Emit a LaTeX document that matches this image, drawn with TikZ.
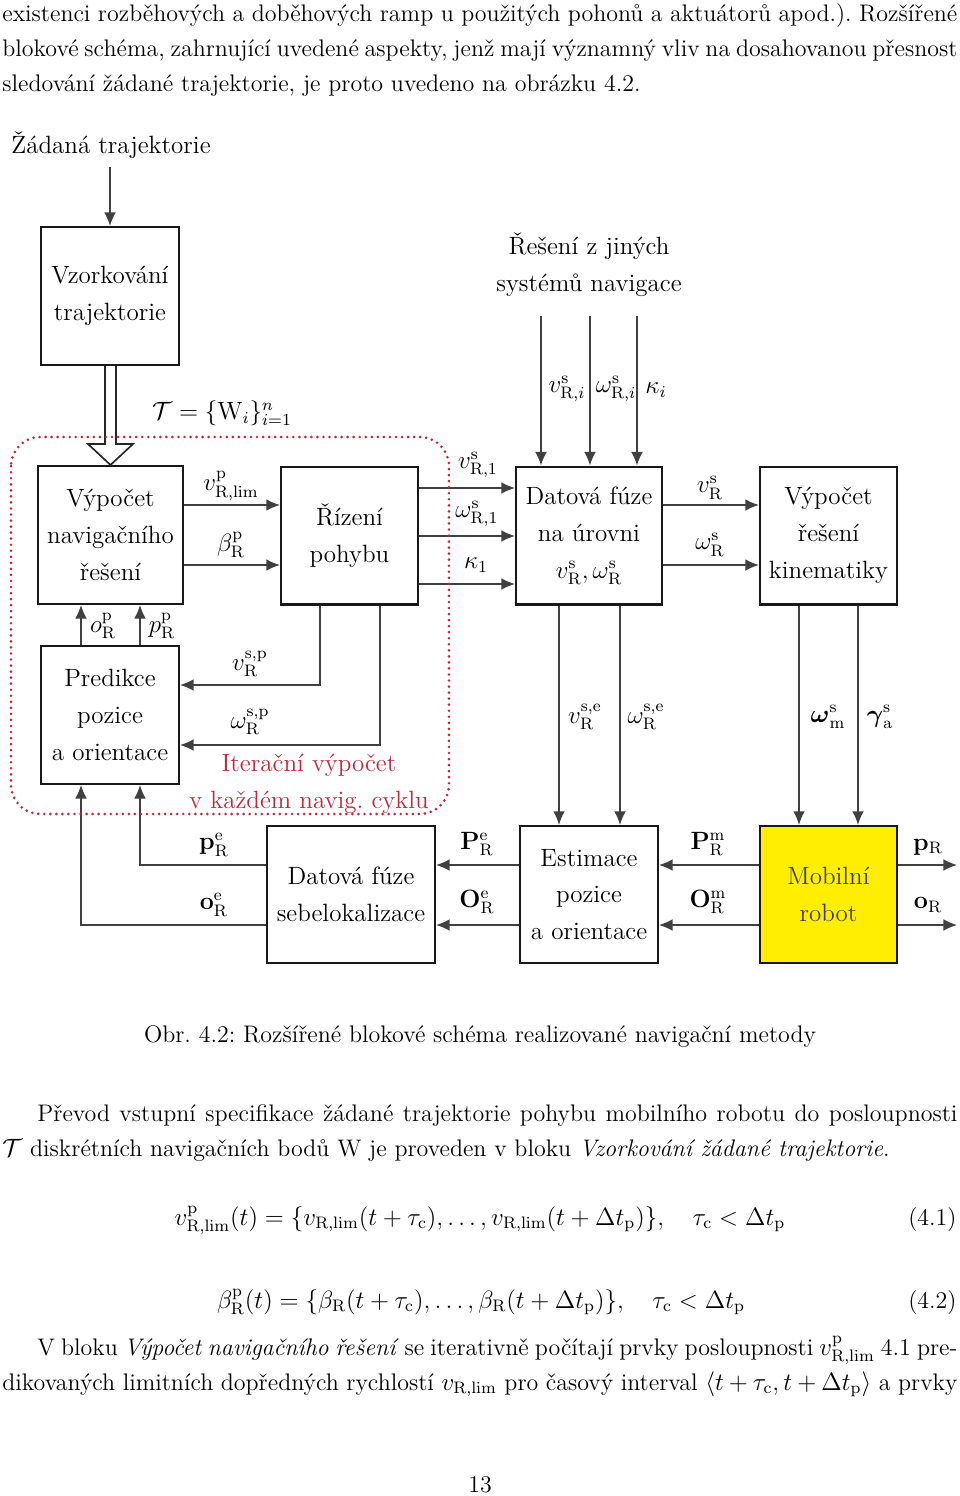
\documentclass[12pt,tikz,border=0pt]{standalone}
\usepackage{amsmath}
\usepackage{tikz}
\usetikzlibrary{arrows.meta}
\definecolor{cervena}{RGB}{200,35,55}
\definecolor{zluta}{RGB}{255,238,0}
\tikzset{
  blok/.style={draw=black!90, line width=1pt, align=center, inner sep=0pt, font=\fontsize{12}{17.7}\selectfont},
  spoj/.style={draw=black!75, line width=0.7pt, -{Latex[length=6.5pt,width=5.6pt]}},
  ramec/.style={draw=cervena, line width=1.4pt, line cap=round, dash pattern=on 0pt off 2.9pt, rounded corners=14pt},
  popis/.style={inner sep=1pt},
  telo/.style={font=\fontsize{11.5}{14}\selectfont},
  radek/.style={telo, anchor=base west, inner sep=0pt}
}
\frenchspacing

\begin{document}
\begin{tikzpicture}[x=0.48pt,y=-0.48pt]
   \useasboundingbox (0,0) rectangle (960,1496);

   \node[radek] (t1) at (2,22) {\makebox[458.4pt][s]{existenci rozběhových a doběhových ramp u použitých pohonů a aktuátorů apod.). Rozšířené}};
   \node[radek] (t2) at (2,57) {\makebox[458.4pt][s]{blokové schéma, zahrnující uvedené aspekty, jenž mají významný vliv na dosahovanou přesnost}};
   \node[radek] (t3) at (2,92) {sledování žádané trajektorie, je proto uvedeno na obrázku 4.2.};

   \node (zt) at (111,145) {Žádaná trajektorie};
   \node[align=center, font=\fontsize{12}{17.7}\selectfont] (rs) at (589,265) {Řešení z jiných\\systémů navigace};

   \node[blok, minimum width=66.2pt, minimum height=66.2pt] (vz) at (110,296) {Vzorkování\\trajektorie};
   \node[blok, minimum width=69.6pt, minimum height=66.2pt] (vn) at (110.5,535) {Výpočet\\navigačního\\řešení};
   \node[blok, minimum width=65.8pt, minimum height=66.2pt] (rp) at (349.5,535.5) {Řízení\\pohybu};
   \node[blok, minimum width=66.2pt, minimum height=66.2pt] (pr) at (110,715) {Predikce\\pozice\\a orientace};
   \node[blok, minimum width=70.1pt, minimum height=66.2pt] (df) at (589,535.5) {Datová fúze\\na úrovni\\$v^\mathrm{s}_\mathrm{R},\omega^\mathrm{s}_\mathrm{R}$};
   \node[blok, minimum width=65.8pt, minimum height=66.2pt] (vk) at (828.5,535.5) {Výpočet\\řešení\\kinematiky};
   \node[blok, minimum width=80.6pt, minimum height=65.8pt] (ds) at (351,894.5) {Datová fúze\\sebelokalizace};
   \node[blok, minimum width=66.2pt, minimum height=65.8pt] (es) at (589,894.5) {Estimace\\pozice\\a orientace};
   \node[blok, fill=zluta, text=black!75, minimum width=65.8pt, minimum height=65.8pt] (mr) at (828.5,894.5) {Mobilní\\robot};

   \coordinate (h1) at (541,316);
   \coordinate (h2) at (590,316);
   \coordinate (h3) at (637,316);
   \coordinate (o1) at (957,865);
   \coordinate (o2) at (957,925);

   \draw[spoj] (zt.south -| vz.north) -- (vz.north);
   \draw[line width=0.8pt, draw=black!85] (vz.south -| 105,0) -- (105,444) -- (88,444) -- (vn.north) -- (133,444) -- (116,444) -- (vz.south -| 116,0);
   \node[popis] (tw) at (222,413) {$\mathcal{T}=\{\mathrm{W}_i\}_{i=1}^{n}$};

   \draw[spoj] (vn.east |- 0,505) -- (rp.west |- 0,505);
   \draw[spoj] (vn.east |- 0,565) -- (rp.west |- 0,565);
   \node[popis] (a1) at (231,486) {$v^\mathrm{p}_\mathrm{R,lim}$};
   \node[popis] (a2) at (231,545) {$\beta^\mathrm{p}_\mathrm{R}$};

   \draw[spoj] (rp.east |- 0,488) -- (df.west |- 0,488);
   \draw[spoj] (rp.east |- 0,536) -- (df.west |- 0,536);
   \draw[spoj] (rp.east |- 0,584) -- (df.west |- 0,584);
   \node[popis] (b1) at (478,465) {$v^\mathrm{s}_\mathrm{R,1}$};
   \node[popis] (b2) at (477,514) {$\omega^\mathrm{s}_\mathrm{R,1}$};
   \node[popis] (b3) at (476,565) {$\kappa_1$};

   \draw[spoj] (h1) -- (h1 |- df.north);
   \draw[spoj] (h2) -- (h2 |- df.north);
   \draw[spoj] (h3) -- (h3 |- df.north);
   \node[popis] (c1) at (567,389) {$v^\mathrm{s}_{\mathrm{R},i}$};
   \node[popis] (c2) at (616,389) {$\omega^\mathrm{s}_{\mathrm{R},i}$};
   \node[popis] (c3) at (656,390) {$\kappa_i$};

   \draw[spoj] (df.east |- 0,505) -- (vk.west |- 0,505);
   \draw[spoj] (df.east |- 0,565) -- (vk.west |- 0,565);
   \node[popis] (d1) at (710,488) {$v^\mathrm{s}_\mathrm{R}$};
   \node[popis] (d2) at (710,545) {$\omega^\mathrm{s}_\mathrm{R}$};

   \draw[spoj] (df.south -| 559,0) -- (es.north -| 559,0);
   \draw[spoj] (df.south -| 620,0) -- (es.north -| 620,0);
   \node[popis] (e1) at (585,717) {$v^\mathrm{s,e}_\mathrm{R}$};
   \node[popis] (e2) at (646,717) {$\omega^\mathrm{s,e}_\mathrm{R}$};

   \draw[spoj] (vk.south -| 799,0) -- (mr.north -| 799,0);
   \draw[spoj] (vk.south -| 858,0) -- (mr.north -| 858,0);
   \node[popis] (f1) at (828,717) {$\boldsymbol{\omega}^\mathrm{s}_\mathrm{m}$};
   \node[popis] (f2) at (880,717) {$\boldsymbol{\gamma}^\mathrm{s}_\mathrm{a}$};

   \draw[spoj] (mr.east |- o1) -- (o1);
   \draw[spoj] (mr.east |- o2) -- (o2);
   \node[popis] (g1) at (928,847) {$\mathbf{p}_\mathrm{R}$};
   \node[popis] (g2) at (928,905) {$\mathbf{o}_\mathrm{R}$};

   \draw[spoj] (mr.west |- 0,865) -- (es.east |- 0,865);
   \draw[spoj] (mr.west |- 0,925) -- (es.east |- 0,925);
   \node[popis] (k1) at (708,844) {$\mathbf{P}^\mathrm{m}_\mathrm{R}$};
   \node[popis] (k2) at (708,902) {$\mathbf{O}^\mathrm{m}_\mathrm{R}$};

   \draw[spoj] (es.west |- 0,865) -- (ds.east |- 0,865);
   \draw[spoj] (es.west |- 0,925) -- (ds.east |- 0,925);
   \node[popis] (m1) at (477,844) {$\mathbf{P}^\mathrm{e}_\mathrm{R}$};
   \node[popis] (m2) at (477,902) {$\mathbf{O}^\mathrm{e}_\mathrm{R}$};

   \draw[spoj] (ds.west |- 0,865) -| (pr.south -| 140,0);
   \draw[spoj] (ds.west |- 0,925) -| (pr.south -| 81,0);
   \node[popis] (n1) at (214,845) {$\mathbf{p}^\mathrm{e}_\mathrm{R}$};
   \node[popis] (n2) at (214,905) {$\mathbf{o}^\mathrm{e}_\mathrm{R}$};

   \draw[spoj] (pr.north -| 81,0) -- (vn.south -| 81,0);
   \draw[spoj] (pr.north -| 140,0) -- (vn.south -| 140,0);
   \node[popis] (p1) at (103,626) {$o^\mathrm{p}_\mathrm{R}$};
   \node[popis] (p2) at (162,626) {$p^\mathrm{p}_\mathrm{R}$};

   \draw[spoj] (rp.south -| 320,0) |- (pr.east |- 0,685);
   \draw[spoj] (rp.south -| 380,0) |- (pr.east |- 0,745);
   \node[popis] (q1) at (250,664) {$v^\mathrm{s,p}_\mathrm{R}$};
   \node[popis] (q2) at (250,722) {$\omega^\mathrm{s,p}_\mathrm{R}$};

   \node[text=cervena] (it1) at (309,765) {Iterační výpočet};
   \node[text=cervena] (it2) at (309,802) {v každém navig. cyklu};
   \draw[ramec] (11,437) rectangle (449,814);

   \node[telo] (cap) at (480,1037) {Obr. 4.2: Rozšířené blokové schéma realizované navigační metody};

   \node[radek] (t4) at (37,1121) {\makebox[441.6pt][s]{Převod vstupní specifikace žádané trajektorie pohybu mobilního robotu do posloupnosti}};
   \node[radek] (t5) at (2,1156) {$\mathcal{T}$ diskrétních navigačních bodů W je proveden v bloku \textit{Vzorkování žádané trajektorie}.};

   \node[anchor=base, inner sep=0pt, font=\fontsize{11.7}{14}\selectfont] (r1) at (480,1225) {$v^\mathrm{p}_\mathrm{R,lim}(t)=\{v_\mathrm{R,lim}(t+\tau_\mathrm{c}),\dots,v_\mathrm{R,lim}(t+\Delta t_\mathrm{p})\},\quad \tau_\mathrm{c}<\Delta t_\mathrm{p}$};
   \node[telo, anchor=base east, inner sep=0pt] (n41) at (957,1225) {(4.1)};
   \node[anchor=base, inner sep=0pt, font=\fontsize{11.7}{14}\selectfont] (r2) at (481,1308) {$\beta^\mathrm{p}_\mathrm{R}(t)=\{\beta_\mathrm{R}(t+\tau_\mathrm{c}),\dots,\beta_\mathrm{R}(t+\Delta t_\mathrm{p})\},\quad \tau_\mathrm{c}<\Delta t_\mathrm{p}$};
   \node[telo, anchor=base east, inner sep=0pt] (n42) at (957,1308) {(4.2)};

   \node[radek] (t6) at (37,1355) {\makebox[441.6pt][s]{V bloku \textit{Výpočet navigačního řešení} se iterativně počítají prvky posloupnosti $v^\mathrm{p}_\mathrm{R,lim}$ 4.1 pre-}};
   \node[radek] (t7) at (2,1390) {\makebox[458.4pt][s]{dikovaných limitních dopředných rychlostí $v_\mathrm{R,lim}$ pro časový interval $\langle t+\tau_\mathrm{c},t+\Delta t_\mathrm{p}\rangle$ a prvky}};

   \node[telo] (pg) at (480,1485) {13};
\end{tikzpicture}
\end{document}
